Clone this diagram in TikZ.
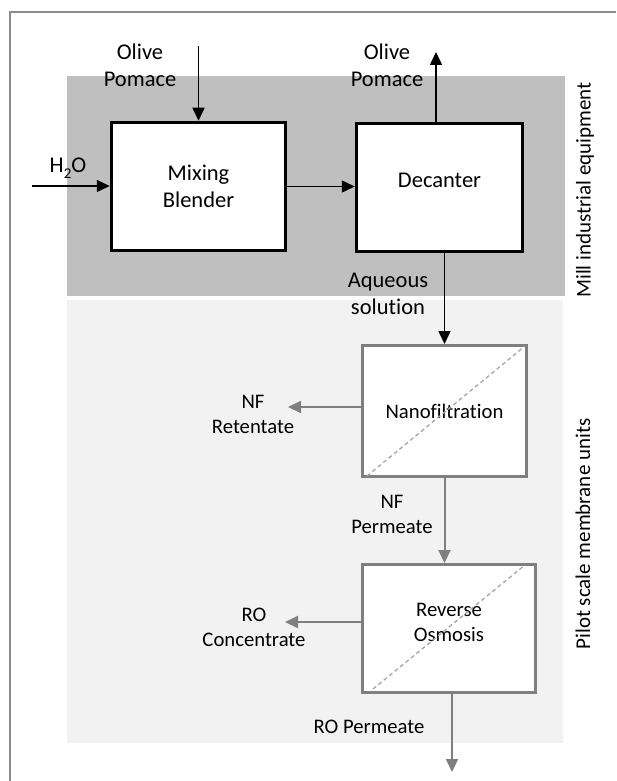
\documentclass[tikz,border=0pt]{standalone}
\usepackage{fontspec}
\setmainfont{Carlito}[Ligatures=NoCommon]
\usetikzlibrary{arrows.meta,calc}
\definecolor{darkband}{HTML}{BFBFBF}
\definecolor{lightband}{HTML}{F2F2F2}
\definecolor{frame}{HTML}{8C8C8C}
\definecolor{membrane}{HTML}{7F7F7F}
\definecolor{dashgray}{HTML}{A6A6A6}
\tikzset{
  bigfont/.style={font=\fontsize{22.5}{27}\selectfont},
  smallfont/.style={font=\fontsize{20.7}{25}\selectfont},
  blackbox/.style={draw=black, line width=3.5pt, fill=white, bigfont, align=center},
  graybox/.style={draw=membrane, line width=3pt, fill=white, smallfont, align=center},
  lbl/.style={inner sep=0pt, align=center},
  blackarrow/.style={draw=black, line width=1.5pt, -{Triangle[length=13pt,width=12pt]}},
  grayarrow/.style={draw=membrane, line width=2pt, -{Triangle[length=13pt,width=12pt]}},
  diag/.style={draw=dashgray, line width=1.3pt, dash pattern=on 4pt off 3pt},
}
\begin{document}
\begin{tikzpicture}[x=1pt,y=-1pt]
\useasboundingbox (0,0) rectangle (616,781);
% outer frame (only top and left visible)
\draw[frame, line width=2pt] (616,12) -- (10,12) -- (10,781);
% bands
\fill[darkband] (67,76) rectangle (565,296);
\fill[lightband] (67,300) rectangle (563,743);
% section labels
\node[rotate=90, font=\fontsize{21}{25}\selectfont] (mill) at (585,190) {Mill industrial equipment};
\node[rotate=90, font=\fontsize{21}{25}\selectfont] (pilot) at (583,534) {Pilot scale membrane units};
% boxes
\node[blackbox, minimum width=174pt, minimum height=128pt] (mix) at (198.5,186.5) {Mixing\\Blender};
\node[blackbox, minimum width=166pt, minimum height=128pt, text depth=14pt] (dec) at (439.5,187.5) {Decanter};
\node[graybox, minimum width=164pt, minimum height=131pt] (nf) at (444.5,411) {Nanofiltration};
\node[graybox, minimum width=173pt, minimum height=128pt, text depth=12pt] (ro) at (449,628.5) {Reverse\\Osmosis};
% membrane diagonals
\draw[diag] ($(nf.south west)+(6,-2)$) -- ($(nf.north east)+(-3,2)$);
\draw[diag] ($(ro.south west)+(12,-5)$) -- ($(ro.north east)+(-12,2)$);
% coordinates for free ends
\coordinate (h2oin) at (32,186);
\coordinate (olivein) at (198.5,46);
\coordinate (oliveout) at (436,52);
\coordinate (nfret) at (288,407);
\coordinate (rocon) at (285,622);
\coordinate (roperm) at (452,772);
% labels
\node[lbl, bigfont] (h2o) at (68,168) {H\raisebox{-0.25em}{\fontsize{15}{15}\selectfont 2}O};
\node[lbl, bigfont] (olive1) at (140,65.5) {Olive\\Pomace};
\node[lbl, bigfont] (olive2) at (387,65.5) {Olive\\Pomace};
\node[lbl, bigfont] (aq) at (388,294) {Aqueous\\solution};
\node[lbl, smallfont] (nfr) at (253,414.5) {NF\\Retentate};
\node[lbl, smallfont] (nfp) at (392,514) {NF\\Permeate};
\node[lbl, smallfont] (roc) at (254,627.5) {RO\\Concentrate};
\node[lbl, smallfont] (rop) at (369,727) {RO Permeate};
% connectors
\draw[blackarrow] (h2oin) -- (mix.west |- h2oin);
\draw[blackarrow] (olivein) -- (mix.north);
\draw[blackarrow] (mix.east) -- (dec.west |- mix.east);
\draw[blackarrow] (oliveout |- dec.north) -- (oliveout);
\draw[blackarrow] (nf.north |- dec.south) -- (nf.north);
\draw[grayarrow] (nf.west |- nfret) -- (nfret);
\draw[grayarrow] (nf.south) -- (nf.south |- ro.north);
\draw[grayarrow] (ro.west |- rocon) -- (rocon);
\draw[grayarrow] (roperm |- ro.south) -- (roperm);
\end{tikzpicture}
\end{document}
